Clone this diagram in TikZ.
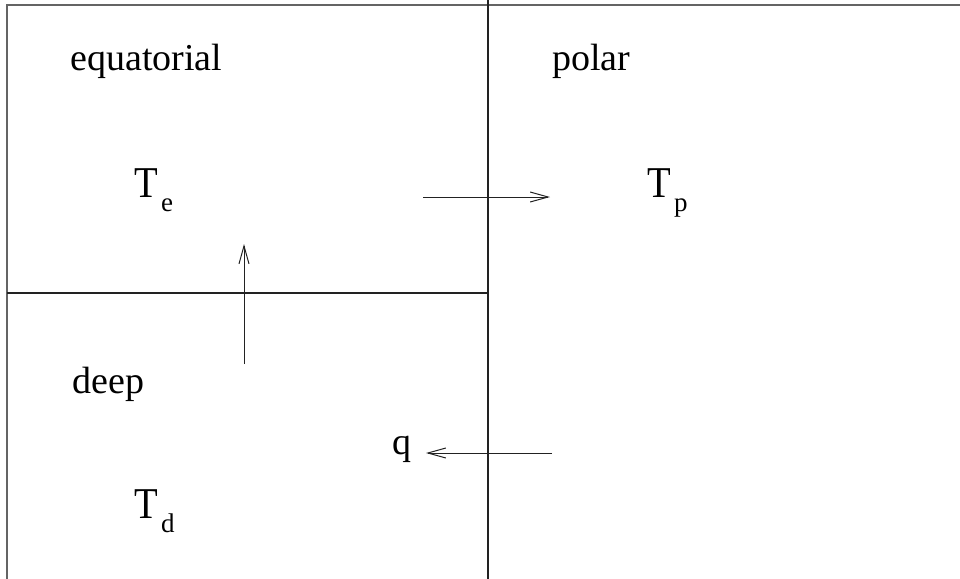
\documentclass[tikz,border=0pt]{standalone}
\usepackage{fontspec}
\setmainfont{Liberation Serif}
\usepackage{xcolor}
\definecolor{cLine}{HTML}{222222}
\usetikzlibrary{positioning,arrows.meta}
\tikzset{
  wall/.style={draw=cLine,line width=0.6pt},
  frame/.style={draw=cLine!70,line width=1pt},
  flow/.style={-{Straight Barb[length=9pt,width=5pt,line width=0.5pt]},draw=cLine,line width=0.5pt},
  box-label/.style={font=\fontsize{19}{22}\selectfont,inner sep=0pt,anchor=base west},
  temp-label/.style={font=\fontsize{22}{26}\selectfont,inner sep=0pt,anchor=base west},
}
\newcommand{\Tsub}[1]{\scalebox{0.88}[1]{T}\kern1.5pt\raisebox{-7pt}{\fontsize{13.5}{14}\selectfont #1}}

\begin{document}
\begin{tikzpicture}[x=0.5pt,y=-0.5pt]
  \useasboundingbox (0,0) rectangle (960,579);
  % outline of the three boxes
  \draw[frame] (7,579) -- (7,5) -- (960,5);
  \draw[wall] (488,0) -- (488,579);
  \draw[wall] (7,293) -- (488,293);
  % box names
  \node[box-label] (equ) at (70,70) {equatorial};
  \node[box-label] (pol) at (552,70) {polar};
  \node[box-label] (dep) at (72,393) {deep};
  % temperatures
  \node[temp-label] (Te) at (134,197) {\Tsub{e}};
  \node[temp-label] (Tp) at (647,197) {\Tsub{p}};
  \node[temp-label] (Td) at (134,518) {\Tsub{d}};
  \node[box-label] (q) at (392,454) {q};
  % circulation
  \coordinate (up-s) at (244,364);
  \coordinate (up-e) at (244,244);
  \coordinate (ep-s) at (423,197);
  \coordinate (ep-e) at (550,197);
  \coordinate (pd-s) at (552,453);
  \coordinate (pd-e) at (426,453);
  \draw[flow] (up-s) -- (up-e);
  \draw[flow] (ep-s) -- (ep-e);
  \draw[flow] (pd-s) -- (pd-e);
\end{tikzpicture}
\end{document}
